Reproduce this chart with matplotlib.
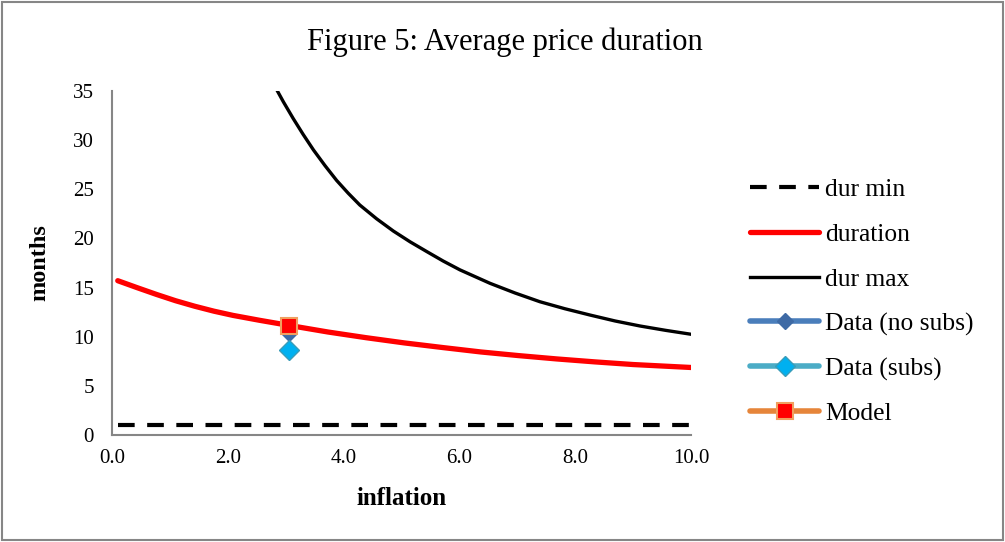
import matplotlib.pyplot as plt
import numpy as np
from matplotlib.patches import Rectangle

plt.rcParams['font.family'] = ['Liberation Serif', 'DejaVu Serif']

# values
x_dur = [0.1, 0.44, 0.77, 1.10, 1.43, 1.76, 2.09, 2.55, 3.05, 3.73, 4.39, 5.05,
         5.71, 6.37, 7.02, 7.68, 8.34, 9.0, 10.0]
duration = [15.7, 14.98, 14.3, 13.66, 13.1, 12.6, 12.17, 11.67, 11.16, 10.48, 9.9, 9.37,
            8.9, 8.45, 8.08, 7.74, 7.44, 7.17, 6.87]

x_max = [2.82, 2.96, 3.13, 3.30, 3.48, 3.68, 3.88, 4.08, 4.28, 4.57, 4.86, 5.15, 5.44,
         5.72, 6.01, 6.53, 6.96, 7.39, 7.82, 8.26, 8.69, 9.12, 9.56, 10.0]
dur_max = [35.4, 33.9, 32.2, 30.6, 29.0, 27.4, 25.9, 24.6, 23.4, 22.0, 20.75, 19.65, 18.65,
           17.7, 16.8, 15.43, 14.45, 13.56, 12.85, 12.2, 11.6, 11.09, 10.65, 10.25]

x_min = [0.1, 10.0]
dur_min = [1.0, 1.0]

data_x = [3.05]
data_nosubs = [10.4]
data_subs = [8.6]
model = [11.1]

fig = plt.figure(figsize=(10.05, 5.42), dpi=100)
ax = fig.add_axes([0.1114, 0.1974, 0.5762, 0.6347])

ax.plot(x_min, dur_min, color='black', lw=3, ls=(0, (4, 3)), label='dur min')
ax.plot(x_dur, duration, color='red', lw=3.8, label='duration',
        solid_capstyle='round', solid_joinstyle='round')
ax.plot(x_max, dur_max, color='black', lw=2.4, label='dur max', solid_joinstyle='round')
ax.plot(data_x, data_nosubs, color='#4A7EBB', lw=4, marker='D', ms=8,
        mfc='#3E6AA5', mec='#3E6AA5', label='Data (no subs)', solid_capstyle='round')
ax.plot(data_x, data_subs, color='#4BACC6', lw=4, marker='D', ms=10,
        mfc='#00B0F0', mec='#3A9CB8', label='Data (subs)', solid_capstyle='round')
ax.plot(data_x, model, color='#E6853A', lw=4, marker='s', ms=12,
        mfc='#FF0000', mec='#F0A060', mew=1.5, label='Model', solid_capstyle='round')

ax.set_xlim(0, 10)
ax.set_ylim(0, 35)
ax.set_xticks(np.arange(0, 10.1, 2))
ax.set_xticklabels(['%.1f' % v for v in np.arange(0, 10.1, 2)])
ax.set_yticks(np.arange(0, 36, 5))
ax.tick_params(length=0, labelsize=15)
ax.tick_params(axis='x', pad=10)
ax.tick_params(axis='y', pad=13)
for s in ['top', 'right']:
    ax.spines[s].set_visible(False)
for s in ['left', 'bottom']:
    ax.spines[s].set_color('#868686')
    ax.spines[s].set_linewidth(1.5)

ax.set_xlabel('inflation', fontsize=18, fontweight='bold')
ax.set_ylabel('months', fontsize=17.5, fontweight='bold')
ax.xaxis.set_label_coords(0.5, -0.15)
ax.yaxis.set_label_coords(-0.107, 0.5)
fig.text(0.502, 0.922, 'Figure 5: Average price duration', fontsize=22, ha='center', va='center')

ax.legend(loc='center left', bbox_to_anchor=(0.746, 0.443), bbox_transform=fig.transFigure,
          frameon=False, fontsize=18.4, borderpad=0, borderaxespad=0,
          handlelength=2.73, labelspacing=0.85, handletextpad=0.23)

fig.patches.append(Rectangle((0.002, 0.003), 0.996, 0.994, transform=fig.transFigure,
                             fill=False, edgecolor='#868686', lw=1.5))

plt.savefig('out.png', dpi=100)
